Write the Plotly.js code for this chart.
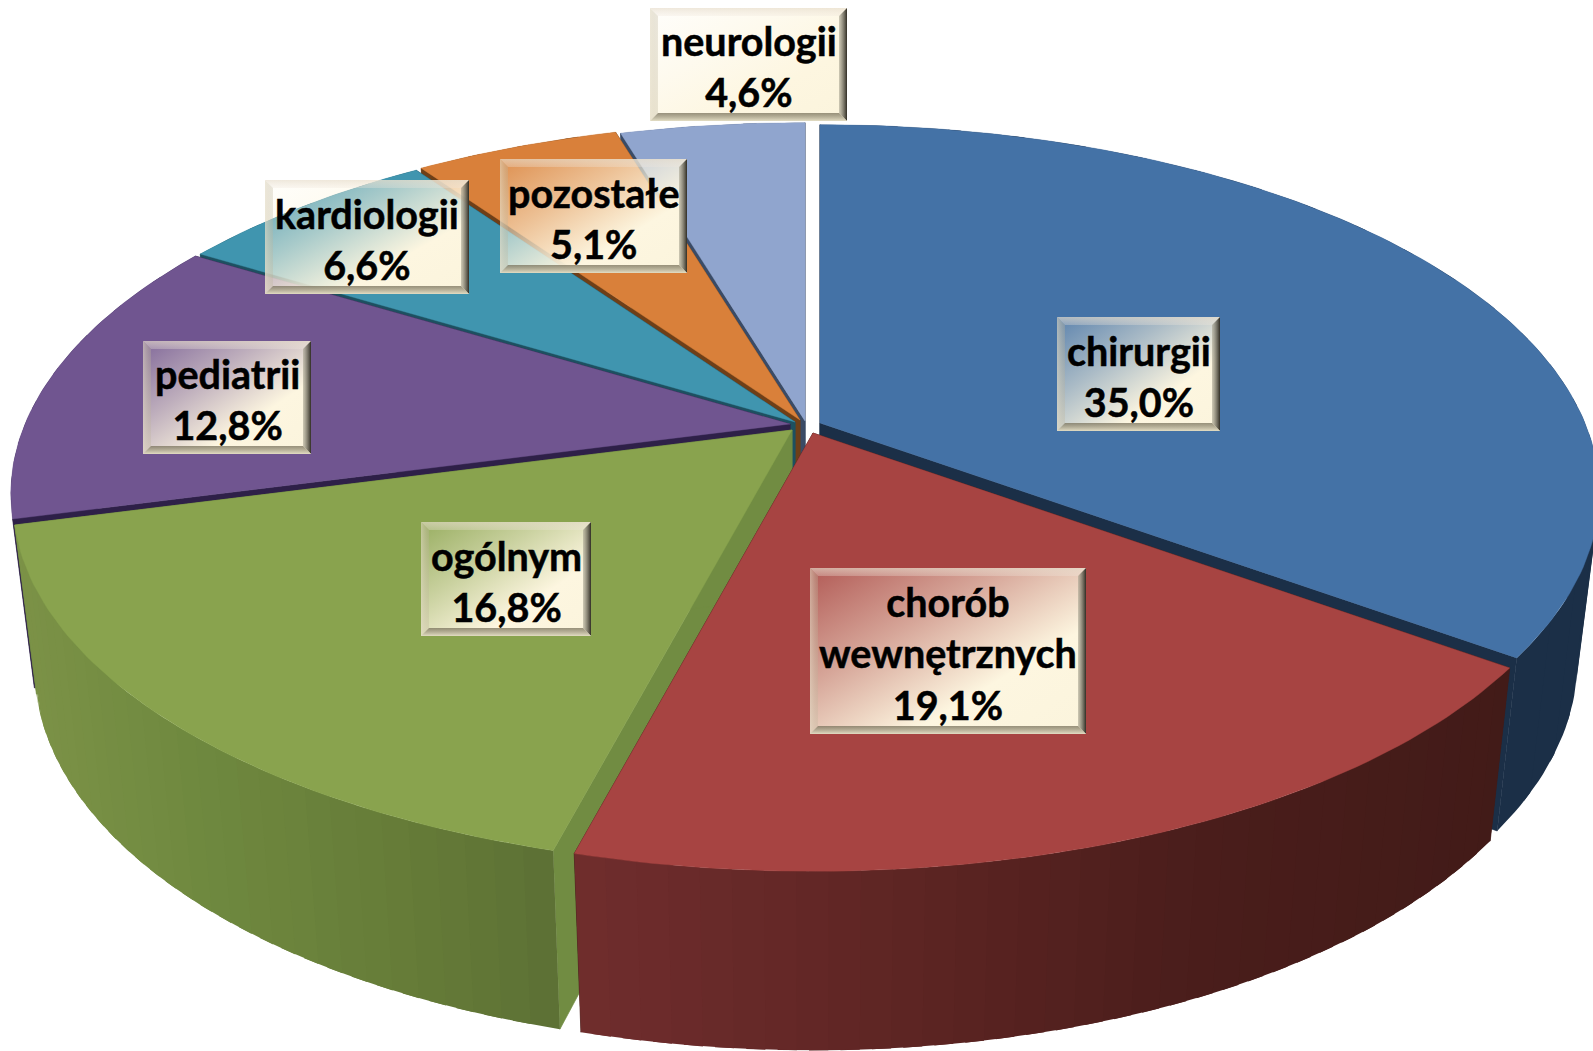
<!DOCTYPE html>
<html><head><meta charset="utf-8">
<script src="https://cdn.plot.ly/plotly-3.0.1.min.js"></script>
<style>html,body{margin:0;padding:0;background:#fff;overflow:hidden}#c{width:1593px;height:1051px}</style>
</head><body><div id="c"></div>
<script>
// ---- data ----
const categories = ['chirurgii','chorób<br>wewnętrznych','ogólnym','pediatrii','kardiologii','pozostałe','neurologii'];
const values = [35.0,19.1,16.8,12.8,6.6,5.1,4.6];

// ---- styles ----
const topColors  = ['#4472a6','#a74442','#89a34e','#705590','#4095af','#d9803a','#90a5ce'];
const sideColors = ['#1b2f47','#431c19','#718c42','#2e2048','#1d5060','#6e3f18','#3a4b66'];
const rimStops = {
  1:[[575,[112,45,45]],[900,[94,37,35]],[1200,[74,29,27]],[1500,[66,27,24]]],
  2:[[20,[124,146,71]],[200,[111,137,63]],[400,[102,124,56]],[560,[92,112,53]]]
};
// ---- view geometry (a tilted disc, drawn in page-sized axes) ----
const G = {a:765,b:355,k:0.19,depth:166,botA:0.972,botB:1.03};
const hubs = [[820,423],[813,433],[792,430],[790,424],[795,422],[800,420],[805,421]];
const paintOrder = [6,5,4,3,0,2,1];
// label box: left, right, top, bottom
const boxes = [[1057,1220,317,431],[810,1086,568,734],[421,591,522,636],[143,311,341,454],[265,469,180,294],[500,687,159,273],[650,847,8,121]];

function topPt(i,t){const r=t*Math.PI/180,w=1+G.k*Math.cos(r);
  return [hubs[i][0]+G.a*Math.sin(r)/w, hubs[i][1]-G.b*Math.cos(r)/w];}
function botPt(i,t){const r=t*Math.PI/180,w=1+G.k*Math.cos(r);
  return [hubs[i][0]+G.botA*G.a*Math.sin(r)/w, hubs[i][1]+G.depth-G.botB*G.b*Math.cos(r)/w];}
function poly(pts,color,lw){
  return {type:'scatter',mode:'lines',x:pts.map(p=>p[0]).concat(pts[0][0]),y:pts.map(p=>p[1]).concat(pts[0][1]),
    fill:'toself',fillcolor:color,line:{color:color,width:lw},hoverinfo:'skip',showlegend:false};
}
function stopColor(i,x){
  const s=rimStops[i]; if(!s) return sideColors[i];
  if(x<=s[0][0]) return `rgb(${s[0][1]})`;
  for(let n=1;n<s.length;n++){ if(x<=s[n][0]){
    const f=(x-s[n-1][0])/(s[n][0]-s[n-1][0]);
    return 'rgb('+s[n][1].map((v,j)=>Math.round(s[n-1][1][j]+(v-s[n-1][1][j])*f)).join(',')+')';}}
  return `rgb(${s[s.length-1][1]})`;
}
const total = values.reduce((p,v)=>p+v,0);
const starts=[]; let run=0; values.forEach(v=>{starts.push(run/total*360);run+=v;});
const traces=[];
paintOrder.forEach(i=>{
  const t0=starts[i], t1=t0+values[i]/total*360, side=sideColors[i];
  const hubT=[hubs[i][0],hubs[i][1]], hubB=[hubs[i][0],hubs[i][1]+G.depth];
  [t0,t1].forEach(t=>traces.push(poly([hubT,topPt(i,t),botPt(i,t),hubB],side,0.7)));
  // rim wall as overlapping bands so its shade can change without seams
  const n=Math.ceil((t1-t0)/(rimStops[i]?2:6));
  const over=1.2;
  for(let s=0;s<n;s++){
    const a=t0+(t1-t0)*s/n,b=Math.min(t1,t0+(t1-t0)*(s+1)/n+over),m=t0+(t1-t0)*(s+0.5)/n,pts=[];
    const q2=Math.max(4,Math.ceil(b-a));
    for(let q=0;q<=q2;q++)pts.push(topPt(i,a+(b-a)*q/q2));
    for(let q=q2;q>=0;q--)pts.push(botPt(i,a+(b-a)*q/q2));
    traces.push(poly(pts,stopColor(i,(topPt(i,m)[0]+botPt(i,m)[0])/2),0));
  }
  const face=[hubT]; const steps=Math.ceil(t1-t0);
  for(let q=0;q<=steps;q++)face.push(topPt(i,t0+(t1-t0)*q/steps));
  traces.push(poly(face,topColors[i],0.4));
});

// label plates
const B=8, shapes=[], annotations=[];
function pathOf(p){return 'M'+p.map(q=>q.join(',')).join('L')+'Z';}
categories.forEach((c,i)=>{
  const [l,r,t,b]=boxes[i];
  const base={type:'path',xref:'x',yref:'y',layer:'above',line:{width:0},fillcolor:'#fdf6e0'};
  shapes.push(Object.assign({},base,{path:pathOf([[l,t],[r,t],[r,b],[l,b]])}));
  shapes.push(Object.assign({},base,{path:pathOf([[l,t],[r,t],[r-B,t+B],[l+B,t+B]])}));
  shapes.push(Object.assign({},base,{path:pathOf([[l,t],[l+B,t+B],[l+B,b-B],[l,b]])}));
  shapes.push(Object.assign({},base,{path:pathOf([[r,t],[r,b],[r-B,b-B],[r-B,t+B]])}));
  shapes.push(Object.assign({},base,{path:pathOf([[l,b],[l+B,b-B],[r-B,b-B],[r,b]])}));
  annotations.push({xref:'x',yref:'y',x:(l+r)/2,y:(t+b)/2+1.5,showarrow:false,xanchor:'center',yanchor:'middle',align:'center',
    text:c+'<br>'+values[i].toFixed(1).replace('.',',')+'%',
    font:{family:'Lato, "Open Sans", sans-serif',size:39.5,color:'#000',weight:700}});
});

const layout={width:1593,height:1051,margin:{l:0,r:0,t:0,b:0},paper_bgcolor:'#fff',plot_bgcolor:'#fff',showlegend:false,
  xaxis:{range:[0,1593],visible:false,fixedrange:true},
  yaxis:{range:[1051,0],visible:false,fixedrange:true},
  shapes:shapes,annotations:annotations};

Plotly.newPlot('c',traces,layout,{displayModeBar:false,staticPlot:true}).then(gd=>{
  const svg=gd.querySelector('.main-svg');
  const NS='http://www.w3.org/2000/svg';
  const defs=document.createElementNS(NS,'defs');
  function grad(id,x2,y2,stops){
    const g=document.createElementNS(NS,'linearGradient');
    g.setAttribute('id',id);g.setAttribute('x1',0);g.setAttribute('y1',0);g.setAttribute('x2',x2);g.setAttribute('y2',y2);
    stops.forEach(s=>{const e=document.createElementNS(NS,'stop');e.setAttribute('offset',s[0]);e.setAttribute('stop-color',s[1]);e.setAttribute('stop-opacity',s[2]);g.appendChild(e);});
    defs.appendChild(g);
  }
  grad('p0',1,1,[[0,'#fdf6e0',0.12],[0.35,'#fdf6e0',0.55],[0.68,'#fdf6e0',1],[1,'#fbf4dc',1]]);
  grad('p1',0,1,[[0,'#e6dccb',0.65],[1,'#efe6dc',0.3]]);
  grad('p2',1,0,[[0,'#e0d8c2',0.6],[1,'#bdb49a',0.3]]);
  grad('p3',1,0,[[0,'#a8a491',0.55],[1,'#26231b',0.95]]);
  grad('p4',0,1,[[0,'#77705a',0.75],[1,'#e2dcc2',0.95]]);
  svg.insertBefore(defs,svg.firstChild);
  gd.querySelectorAll('.layer-above .shapelayer path[data-index]').forEach(el=>{
    const k=(+el.getAttribute('data-index'))%5;
    el.style.fill=`url(#p${k})`; el.style.fillOpacity=1;
  });
  gd.querySelectorAll('.annotation-text').forEach(el=>{
    el.style.stroke='#000'; el.style.strokeWidth='0.5px';
  });
});
</script></body></html>
